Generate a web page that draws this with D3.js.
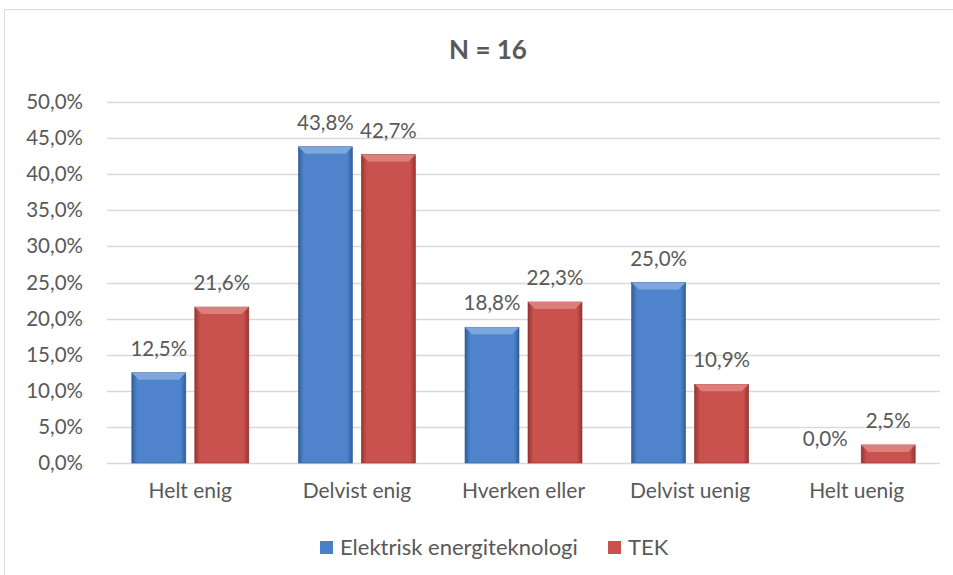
<!DOCTYPE html>
<html><head><meta charset="utf-8">
<script src="https://cdn.jsdelivr.net/npm/d3@7"></script>
<style>body{margin:0;background:#fff}svg{display:block;font-family:Lato,"Open Sans",sans-serif}</style>
</head><body>
<svg id="c" width="953" height="575"></svg>
<script>
const categories = ["Helt enig","Delvist enig","Hverken eller","Delvist uenig","Helt uenig"];
const seriesNames = ["Elektrisk energiteknologi","TEK"];
const elektrisk = [12.5,43.8,18.8,25.0,0.0];
const tek = [21.6,42.7,22.3,10.9,2.5];
const yTicks = [0,5,10,15,20,25,30,35,40,45,50];
const title = "N = 16";

const svg = d3.select("#c");
const W = 953, H = 575;
const fmt = v => v.toFixed(1).replace(".", ",") + "%";
const txt = "#595959";
const FS = 20.5;

// chart border
svg.append("rect").attr("x",4.5).attr("y",9.5).attr("width",W).attr("height",H).attr("fill","none").attr("stroke","#d9d9d9");

const defs = svg.append("defs");
function grad(id, edge, mid){
  const g = defs.append("linearGradient").attr("id",id).attr("x1","0").attr("x2","1").attr("y1","0").attr("y2","0");
  g.append("stop").attr("offset","0").attr("stop-color",edge);
  g.append("stop").attr("offset","0.1").attr("stop-color",mid);
  g.append("stop").attr("offset","0.9").attr("stop-color",mid);
  g.append("stop").attr("offset","1").attr("stop-color",edge);
}
grad("gb","#2f5f9e","#4f84cc");
grad("gr","#9b3431","#c9524e");
const colors = ["url(#gb)","url(#gr)"];
const topCol = ["#7ea7dd","#dc7f7b"];
const strokeCol = ["#2d5790","#8c2d2b"];
const legendColors = ["#4a80c9","#c9504c"];

const y = d3.scaleLinear().domain([0,50]).range([463,102]);
const x0 = d3.scaleBand().domain(categories).range([107,940]).padding(0);
const x1 = d3.scaleBand().domain(seriesNames).range([0,x0.bandwidth()]).paddingInner(0.143).paddingOuter(0.394);

// gridlines
svg.append("g").selectAll("line").data(yTicks).join("line")
  .attr("x1",107).attr("x2",940).attr("y1",d=>Math.round(y(d))+0.5).attr("y2",d=>Math.round(y(d))+0.5)
  .attr("stroke","#d9d9d9").attr("stroke-width",1.3);

// y axis labels
const yAxis = d3.axisLeft(y).tickValues(yTicks).tickFormat(d=>fmt(d)).tickSize(0).tickPadding(24);
const ya = svg.append("g").attr("transform","translate(107,0)").call(yAxis);
ya.select(".domain").remove();
ya.selectAll("text").attr("fill",txt).attr("font-size",FS).attr("font-family","Lato");

// x axis labels
const xAxis = d3.axisBottom(x0).tickSize(0).tickPadding(20);
const xa = svg.append("g").attr("transform","translate(0,463)").call(xAxis);
xa.select(".domain").remove();
xa.selectAll("text").attr("fill",txt).attr("font-size",21).attr("font-family","Lato");

const data = categories.map((c,i)=>({c, vals:[{s:seriesNames[0],v:elektrisk[i],k:0},{s:seriesNames[1],v:tek[i],k:1}]}));
const grp = svg.append("g").selectAll("g").data(data).join("g").attr("transform",d=>`translate(${x0(d.c)},0)`);
const bars = grp.selectAll("g").data(d=>d.vals).join("g");
const pos = bars.filter(d=>d.v>0);
pos.append("rect")
  .attr("x",d=>x1(d.s)).attr("width",x1.bandwidth())
  .attr("y",d=>y(d.v)).attr("height",d=>y(0)-y(d.v))
  .attr("fill",d=>colors[d.k]).attr("stroke",d=>strokeCol[d.k]).attr("stroke-width",0.6);
pos.append("path")
  .attr("d",d=>{
    const x=x1(d.s), w=x1.bandwidth(), t=y(d.v), b=Math.min(7,(y(0)-y(d.v))/2);
    return `M${x},${t}L${x+w},${t}L${x+w-b},${t+b}L${x+b},${t+b}Z`;
  })
  .attr("fill",d=>topCol[d.k]);
bars.append("text")
  .attr("x",d=>x1(d.s)+x1.bandwidth()/2).attr("y",d=>y(d.v)-17)
  .attr("text-anchor","middle").attr("fill",txt).attr("font-size",FS)
  .text(d=>fmt(d.v));

// title
svg.append("text").attr("x",488).attr("y",59).attr("text-anchor","middle")
  .attr("font-size",26).attr("font-weight","bold").attr("fill",txt).text(title);

// legend
const lx = [320,608];
const lg = svg.append("g").selectAll("g").data(seriesNames).join("g").attr("transform",(d,i)=>`translate(${lx[i]},0)`);
lg.append("rect").attr("x",0).attr("y",541).attr("width",13).attr("height",13).attr("fill",(d,i)=>legendColors[i]);
lg.append("text").attr("x",20).attr("y",555).attr("fill",txt).attr("font-size",22).text(d=>d);
</script>
</body></html>
